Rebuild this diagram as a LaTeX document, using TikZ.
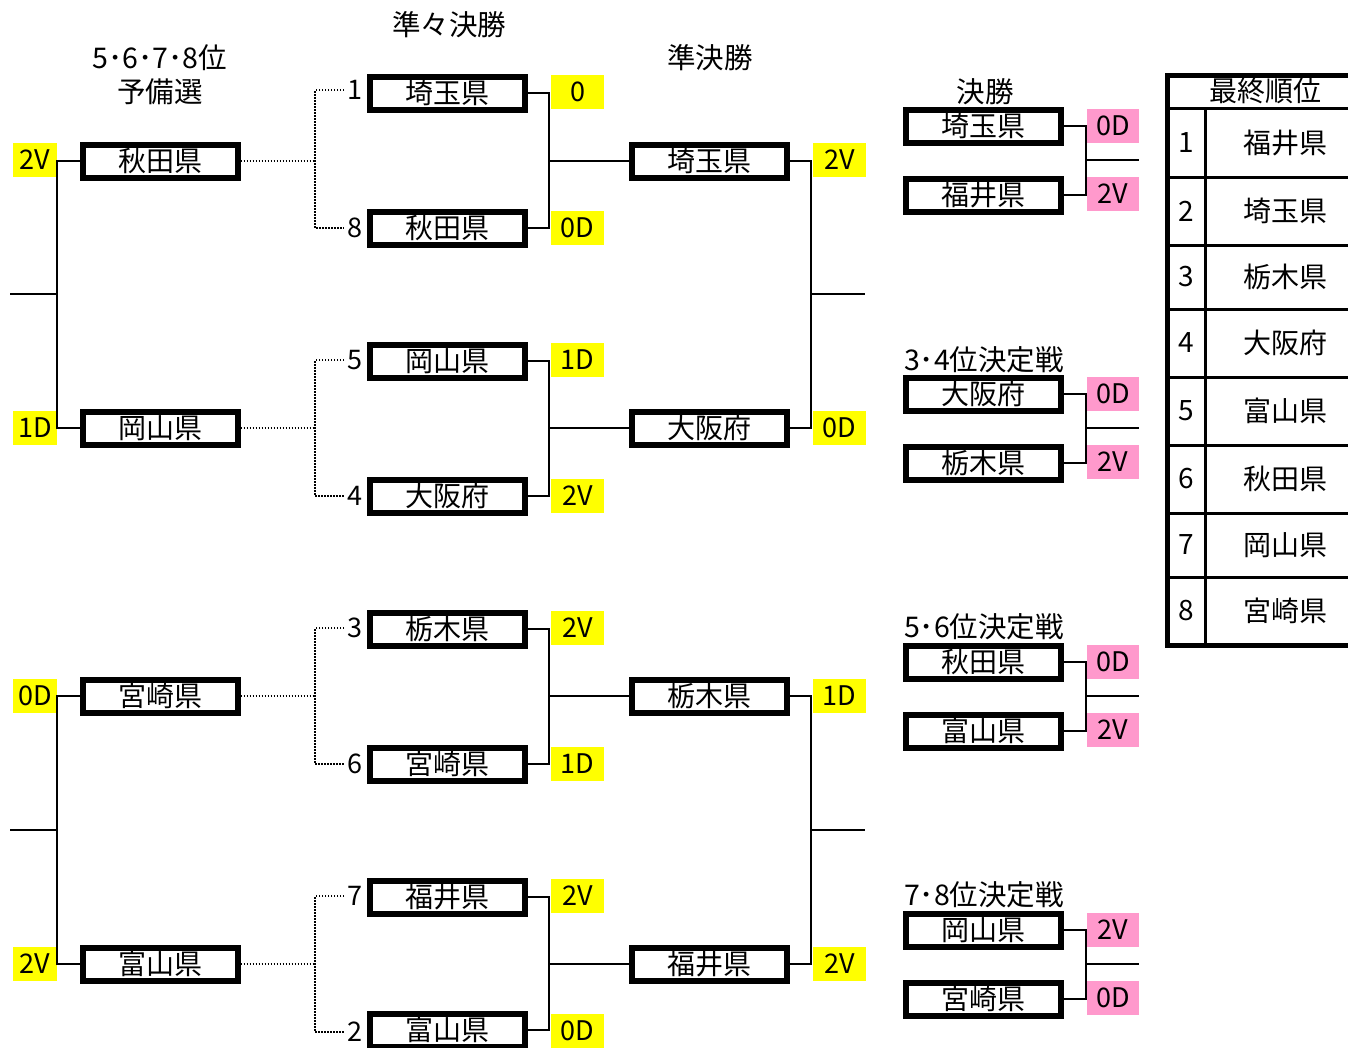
\documentclass[tikz,border=0pt]{standalone}
\usepackage{fontspec}
\setmainfont{Noto Sans CJK JP}
\definecolor{lblyellow}{HTML}{FFFF00}
\definecolor{lblpink}{HTML}{FF99CC}
\begin{document}
\begin{tikzpicture}[x=1pt,y=-1pt,
  team/.style={draw, line width=6pt, minimum width=155pt, minimum height=33pt, inner sep=0pt, font=\fontsize{28}{30}\selectfont},
  ylab/.style={fill=lblyellow, minimum width=53pt, minimum height=34pt, inner sep=0pt, font=\fontsize{27}{28}\selectfont},
  ylabl/.style={ylab, minimum width=44pt},
  plab/.style={ylab, fill=lblpink, minimum width=52pt},
  seed/.style={anchor=west, inner sep=3pt, font=\fontsize{27}{28}\selectfont},
  ttl/.style={inner sep=0pt, font=\fontsize{28.5}{30}\selectfont},
  conn/.style={line width=2pt},
  dots/.style={line width=1.5pt, dash pattern=on 1.5pt off 1.5pt},
  tbl/.style={line width=3pt},
  tblout/.style={line width=5pt},
  tcell/.style={inner sep=0pt, font=\fontsize{28}{30}\selectfont}
]
\useasboundingbox (0,0) rectangle (1348,1047);

% titles
\node[ttl] (t0a) at (160,58) {5･6･7･8位};
\node[ttl] (t0b) at (160,92) {予備選};
\node[ttl] (t1) at (449,25) {準々決勝};
\node[ttl] (t2) at (710,58) {準決勝};
\node[ttl] (t3) at (985,92) {決勝};
\node[ttl] (t4) at (984,360) {3･4位決定戦};
\node[ttl] (t5) at (984,627) {5･6位決定戦};
\node[ttl] (t6) at (984,895) {7･8位決定戦};

% round 1
\node[team] (a1) at (160,161) {秋田県};
\node[team] (a2) at (160,428) {岡山県};
\node[team] (a3) at (160,696) {宮崎県};
\node[team] (a4) at (160,964) {富山県};
\node[ylabl] (la1) at (35,160) {2V};
\node[ylabl] (la2) at (35,428) {1D};
\node[ylabl] (la3) at (35,696) {0D};
\node[ylabl] (la4) at (35,964) {2V};
\coordinate (v1a) at (57,294);
\coordinate (v1b) at (57,830);
\coordinate (e1a) at (10,294);
\coordinate (e1b) at (10,830);
\draw[conn] (a1.west) -| (v1a) |- (a2.west);
\draw[conn] (a3.west) -| (v1b) |- (a4.west);
\draw[conn] (v1a) -- (e1a);
\draw[conn] (v1b) -- (e1b);

% round 2
\node[team] (b1) at (447.5,93) {埼玉県};
\node[team] (b2) at (447.5,228) {秋田県};
\node[team] (b3) at (447.5,361) {岡山県};
\node[team] (b4) at (447.5,496) {大阪府};
\node[team] (b5) at (447.5,629) {栃木県};
\node[team] (b6) at (447.5,764) {宮崎県};
\node[team] (b7) at (447.5,897) {福井県};
\node[team] (b8) at (447.5,1030) {富山県};
\node[seed] (n1) at (344,90) {1};
\node[seed] (n2) at (344,228) {8};
\node[seed] (n3) at (344,360) {5};
\node[seed] (n4) at (344,496) {4};
\node[seed] (n5) at (344,628) {3};
\node[seed] (n6) at (344,764) {6};
\node[seed] (n7) at (344,896) {7};
\node[seed] (n8) at (344,1032) {2};
\coordinate (d1a) at (315,161);
\coordinate (d1b) at (315,428);
\coordinate (d1c) at (315,696);
\coordinate (d1d) at (315,964);
\draw[dots] (a1.east) -- (d1a);
\draw[dots] (a2.east) -- (d1b);
\draw[dots] (a3.east) -- (d1c);
\draw[dots] (a4.east) -- (d1d);
\draw[dots] (n1.west) -| (d1a) |- (n2.west);
\draw[dots] (n3.west) -| (d1b) |- (n4.west);
\draw[dots] (n5.west) -| (d1c) |- (n6.west);
\draw[dots] (n7.west) -| (d1d) |- (n8.west);
\node[ylab] (lb1) at (577.5,92) {0};
\node[ylab] (lb2) at (577.5,228) {0D};
\node[ylab] (lb3) at (577.5,360) {1D};
\node[ylab] (lb4) at (577.5,496) {2V};
\node[ylab] (lb5) at (577.5,628) {2V};
\node[ylab] (lb6) at (577.5,764) {1D};
\node[ylab] (lb7) at (577.5,896) {2V};
\node[ylab] (lb8) at (577.5,1031) {0D};
\coordinate (v2a) at (549,161);
\coordinate (v2b) at (549,428);
\coordinate (v2c) at (549,696);
\coordinate (v2d) at (549,964);

% round 3
\node[team] (c1) at (709,161) {埼玉県};
\node[team] (c2) at (709,428) {大阪府};
\node[team] (c3) at (709,696) {栃木県};
\node[team] (c4) at (709,964) {福井県};
\draw[conn] (b1.east) -| (v2a) |- (b2.east);
\draw[conn] (b3.east) -| (v2b) |- (b4.east);
\draw[conn] (b5.east) -| (v2c) |- (b6.east);
\draw[conn] (b7.east) -| (v2d) |- (b8.east);
\draw[conn] (v2a) -- (c1.west);
\draw[conn] (v2b) -- (c2.west);
\draw[conn] (v2c) -- (c3.west);
\draw[conn] (v2d) -- (c4.west);
\node[ylab] (lc1) at (839.5,160) {2V};
\node[ylab] (lc2) at (839.5,428) {0D};
\node[ylab] (lc3) at (839.5,696) {1D};
\node[ylab] (lc4) at (839.5,964) {2V};
\coordinate (v3a) at (811,294);
\coordinate (v3b) at (811,830);
\coordinate (e3a) at (865,294);
\coordinate (e3b) at (865,830);
\draw[conn] (c1.east) -| (v3a) |- (c2.east);
\draw[conn] (c3.east) -| (v3b) |- (c4.east);
\draw[conn] (v3a) -- (e3a);
\draw[conn] (v3b) -- (e3b);

% finals
\node[team] (f1) at (983.5,126) {埼玉県};
\node[team] (f2) at (983.5,195) {福井県};
\node[team] (f3) at (983.5,394) {大阪府};
\node[team] (f4) at (983.5,463) {栃木県};
\node[team] (f5) at (983.5,662) {秋田県};
\node[team] (f6) at (983.5,731) {富山県};
\node[team] (f7) at (983.5,930) {岡山県};
\node[team] (f8) at (983.5,999) {宮崎県};
\node[plab] (lf1) at (1113,126) {0D};
\node[plab] (lf2) at (1113,194) {2V};
\node[plab] (lf3) at (1113,394) {0D};
\node[plab] (lf4) at (1113,462) {2V};
\node[plab] (lf5) at (1113,662) {0D};
\node[plab] (lf6) at (1113,730) {2V};
\node[plab] (lf7) at (1113,930) {2V};
\node[plab] (lf8) at (1113,998) {0D};
\coordinate (v4a) at (1086,160);
\coordinate (v4b) at (1086,428);
\coordinate (v4c) at (1086,696);
\coordinate (v4d) at (1086,964);
\coordinate (e4a) at (1139,160);
\coordinate (e4b) at (1139,428);
\coordinate (e4c) at (1139,696);
\coordinate (e4d) at (1139,964);
\draw[conn] (f1.east) -| (v4a) |- (f2.east);
\draw[conn] (f3.east) -| (v4b) |- (f4.east);
\draw[conn] (f5.east) -| (v4c) |- (f6.east);
\draw[conn] (f7.east) -| (v4d) |- (f8.east);
\draw[conn] (v4a) -- (e4a);
\draw[conn] (v4b) -- (e4b);
\draw[conn] (v4c) -- (e4c);
\draw[conn] (v4d) -- (e4d);

% final ranking table
\draw[tbl] (1167,108) -- (1348,108);
\foreach \yy in {177,245,309,377,445,513,577} \draw[tbl] (1167,\yy) -- (1348,\yy);
\draw[tbl] (1205,108) -- (1205,645);
\draw[tblout] (1167,73) -- (1167,647);
\draw[tblout] (1165,75.5) -- (1348,75.5);
\draw[tblout] (1165,645) -- (1348,645);
\node[tcell] (th) at (1265,91) {最終順位};
\node[tcell] (r1n) at (1186,143) {1};
\node[tcell] (r2n) at (1186,211) {2};
\node[tcell] (r3n) at (1186,277) {3};
\node[tcell] (r4n) at (1186,343) {4};
\node[tcell] (r5n) at (1186,411) {5};
\node[tcell] (r6n) at (1186,479) {6};
\node[tcell] (r7n) at (1186,545) {7};
\node[tcell] (r8n) at (1186,611) {8};
\node[tcell] (r1t) at (1285,143) {福井県};
\node[tcell] (r2t) at (1285,211) {埼玉県};
\node[tcell] (r3t) at (1285,277) {栃木県};
\node[tcell] (r4t) at (1285,343) {大阪府};
\node[tcell] (r5t) at (1285,411) {富山県};
\node[tcell] (r6t) at (1285,479) {秋田県};
\node[tcell] (r7t) at (1285,545) {岡山県};
\node[tcell] (r8t) at (1285,611) {宮崎県};
\end{tikzpicture}
\end{document}
